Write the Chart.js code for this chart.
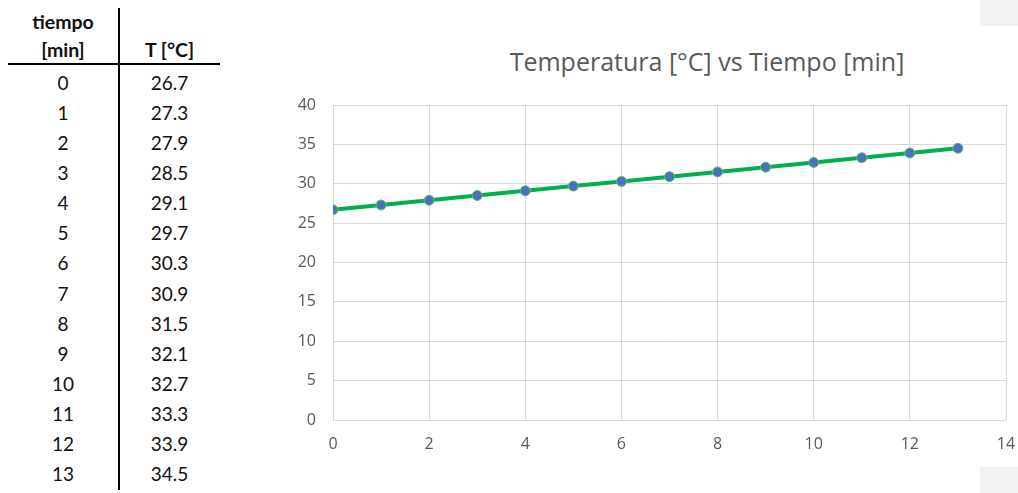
<!DOCTYPE html>
<html>
<head>
<meta charset="utf-8">
<script src="https://cdn.jsdelivr.net/npm/chart.js@4"></script>
<style>
  body { margin: 0; width: 1018px; height: 493px; background: #fff; position: relative; overflow: hidden; }
  .tabla { position: absolute; left: 0; top: 0; font-family: Lato, sans-serif; font-size: 19px; color: #111; }
  .cel { position: absolute; text-align: center; height: 30px; line-height: 30px; }
  .head { font-weight: bold; font-size: 19.5px; }
  #vline { position: absolute; left: 118px; top: 8px; width: 1.5px; height: 482px; background: #000; }
  #hline { position: absolute; left: 8px; top: 63px; width: 212px; height: 1.5px; background: #000; }
  #titulo { position: absolute; left: 240px; width: 934px; top: 44px; text-align: center; font-family: "Open Sans", sans-serif; font-size: 25px; color: #595959; }
  .gris { position: absolute; left: 980px; width: 38px; height: 26px; background: #f2f2f2; }
  #wrap { position: absolute; left: 240px; top: 0; width: 778px; height: 493px; }
</style>
</head>
<body>
<div class="tabla" id="tabla"></div>
<div id="vline"></div>
<div id="hline"></div>
<div class="gris" style="top:0"></div>
<div class="gris" style="top:467px"></div>
<div id="titulo">Temperatura [°C] vs Tiempo [min]</div>
<div id="wrap"><canvas id="grafico" width="778" height="493"></canvas></div>
<script>
// datos
var tiempo = [0, 1, 2, 3, 4, 5, 6, 7, 8, 9, 10, 11, 12, 13];
var temperatura = [26.7, 27.3, 27.9, 28.5, 29.1, 29.7, 30.3, 30.9, 31.5, 32.1, 32.7, 33.3, 33.9, 34.5];

// TABLA
var tabla = document.getElementById('tabla');
function celda(txt, x, y, w, clase) {
  var d = document.createElement('div');
  d.className = 'cel' + (clase ? ' ' + clase : '');
  d.style.left = x + 'px';
  d.style.top = y + 'px';
  d.style.width = w + 'px';
  d.textContent = txt;
  tabla.appendChild(d);
}
celda('tiempo', 8, 7, 110, 'head');
celda('[min]', 8, 35, 110, 'head');
celda('T [°C]', 119, 35, 101, 'head');
for (var i = 0; i < tiempo.length; i++) {
  var y = 68 + i * 30.08;
  celda(tiempo[i], 8, y, 110);
  celda(temperatura[i].toFixed(1), 119, y, 101);
}

// GRAFICO
var puntos = tiempo.map(function (t, i) { return { x: t, y: temperatura[i] }; });
var fuente = { family: "'Open Sans', sans-serif", size: 16 };

new Chart(document.getElementById('grafico'), {
  type: 'line',
  data: {
    datasets: [{
      data: puntos,
      borderColor: '#00b050',
      borderWidth: 4,
      pointBackgroundColor: '#4472c4',
      pointBorderColor: '#70c050',
      pointBorderWidth: 1,
      pointRadius: 5,
      tension: 0
    }]
  },
  options: {
    responsive: false,
    animation: false,
    layout: { padding: { left: 0, right: 0, top: 105, bottom: 30 } },
    plugins: { legend: { display: false }, tooltip: { enabled: false } },
    scales: {
      x: {
        type: 'linear',
        min: 0,
        max: 14,
        ticks: { stepSize: 2, color: '#595959', font: fuente, padding: 15 },
        grid: { color: '#d9d9d9', drawTicks: false },
        border: { display: false },
        afterFit: function (s) { s.height = 43; s.paddingRight = 12; }
      },
      y: {
        min: 0,
        max: 40,
        ticks: { stepSize: 5, color: '#595959', font: fuente, padding: 17 },
        grid: { color: '#d9d9d9', drawTicks: false },
        border: { display: false },
        afterFit: function (s) { s.width = 93; }
      }
    }
  }
});
</script>
</body>
</html>
